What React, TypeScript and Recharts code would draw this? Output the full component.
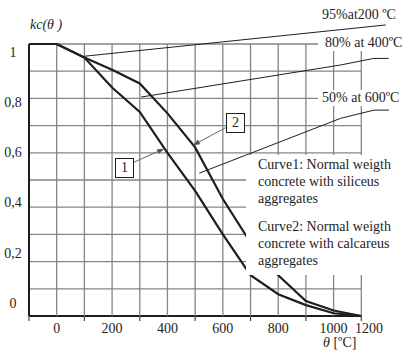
import React from "react";
import { LineChart, Line, XAxis, YAxis, ReferenceLine } from "recharts";

// temperatures (ºC) and reduction factor kc(θ) for the two curves
const temps = [-100, 0, 100, 200, 300, 400, 500, 600, 700, 800, 900, 1000, 1100];
const curve1 = [1, 1, 0.95, 0.84, 0.75, 0.6, 0.46, 0.3, 0.15, 0.08, 0.04, 0.01, 0];
const curve2 = [1, 1, 0.95, 0.905, 0.855, 0.745, 0.62, 0.43, 0.27, 0.15, 0.055, 0.02, 0];

const xTicks = [-100, 0, 100, 200, 300, 400, 500, 600, 700, 800, 900, 1000, 1100, 1200];
const yLabels = [0, 0.2, 0.4, 0.6, 0.8, 1];
const yMinor = [0.05, 0.15, 0.25, 0.35, 0.45, 0.55, 0.65, 0.75, 0.85, 0.95];
const xGrid = [-100, 0, 100, 200, 300, 400, 500, 600, 700, 800, 900, 1000, 1100];
const yGrid = [0, 0.1, 0.2, 0.3, 0.4, 0.5, 0.6, 0.7, 0.8, 0.9, 1];

// leader lines for the callouts (data units)
const note95 = [
  { x: 100, y: 0.955 },
  { x: 1188, y: 1.07 },
];
const note80 = [
  { x: 305, y: 0.805 },
  { x: 1026, y: 0.923 },
  { x: 1145, y: 0.947 },
  { x: 1199, y: 0.947 },
];
const note50 = [
  { x: 515, y: 0.525 },
  { x: 1026, y: 0.727 },
  { x: 1146, y: 0.757 },
  { x: 1200, y: 0.757 },
];
const arrow1 = [
  { x: 280, y: 0.566 },
  { x: 388, y: 0.615 },
];
const arrow2 = [
  { x: 617, y: 0.696 },
  { x: 492, y: 0.628 },
];

const rows = temps.map((t, i) => ({ t, c1: curve1[i], c2: curve2[i] }));

const font = "'Liberation Serif', 'Times New Roman', serif";
const gridColor = "#858585";
const ink = "#1e1e1e";

const XTick = (props: any) => {
  const { x, y, payload } = props;
  const v = payload.value;
  if (v % 200 !== 0) {
    if (v > 1100) return <g />;
    return <line x1={x} x2={x} y1={y} y2={y + 5} stroke="#444" strokeWidth={1.2} />;
  }
  const last = v === 1200;
  return (
    <text
      x={x}
      y={y + 17}
      dx={last ? -6 : 0}
      textAnchor={last ? "end" : "middle"}
      fontFamily={font}
      fontSize={14}
      fill={ink}
    >
      {v}
    </text>
  );
};

const YTick = (props: any) => {
  const { x, y, payload } = props;
  return (
    <text x={x} y={y} dy="0.35em" textAnchor="middle" fontFamily={font} fontSize={14} fill={ink}>
      {String(payload.value).replace(".", ",")}
    </text>
  );
};

const Arrow = (props: any) => {
  const { x1, y1, x2, y2 } = props;
  const a = Math.atan2(y2 - y1, x2 - x1);
  const len = 7;
  const w = 2.6;
  const bx = x2 - len * Math.cos(a);
  const by = y2 - len * Math.sin(a);
  const px = -Math.sin(a) * w;
  const py = Math.cos(a) * w;
  return (
    <g>
      <line x1={x1} y1={y1} x2={bx} y2={by} stroke="#666" strokeWidth={1} />
      <polygon points={`${x2},${y2} ${bx + px},${by + py} ${bx - px},${by - py}`} fill="#555" />
    </g>
  );
};

function segments(pts: { x: number; y: number }[]) {
  const out: { x: number; y: number }[][] = [];
  for (let i = 0; i < pts.length - 1; i++) out.push([pts[i], pts[i + 1]]);
  return out;
}

const textStyle: React.CSSProperties = {
  position: "absolute",
  fontFamily: font,
  fontSize: 14,
  lineHeight: "16px",
  color: ink,
  whiteSpace: "nowrap",
};

export default function App() {
  const notes = [note95, note80, note50].flatMap(segments);
  return (
    <div style={{ position: "absolute", left: 0, top: 0, width: 405, height: 353, background: "#fff" }}>
      <LineChart
        width={405}
        height={353}
        data={rows}
        margin={{ top: 44, right: 16, bottom: 0, left: 0 }}
      >
        <XAxis
          dataKey="t"
          type="number"
          domain={[-100, 1200]}
          ticks={xTicks}
          interval={0}
          axisLine={false}
          tickLine={false}
          tickSize={0}
          tickMargin={0}
          height={37}
          tick={<XTick />}
        />
        <YAxis
          yAxisId="lab"
          type="number"
          domain={[-0.052, 1.032]}
          allowDataOverflow
          ticks={yLabels}
          interval={0}
          axisLine={false}
          tickLine={false}
          tickSize={0}
          tickMargin={16}
          width={29}
          tick={<YTick />}
        />
        <YAxis
          yAxisId="main"
          type="number"
          domain={[0, 1]}
          ticks={yMinor}
          interval={0}
          mirror
          width={0}
          axisLine={{ stroke: ink, strokeWidth: 2 }}
          tickLine={{ stroke: "#444", strokeWidth: 1.2 }}
          tickSize={4}
          tick={() => <g />}
        />
        {yGrid.map((v) => (
          <ReferenceLine
            key={"h" + v}
            yAxisId="main"
            segment={[
              { x: -100, y: v },
              { x: 1100, y: v },
            ]}
            stroke={v === 0 ? ink : gridColor}
            strokeWidth={v === 0 ? 2 : 1.3}
          />
        ))}
        {xGrid.map((v) => (
          <ReferenceLine
            key={"v" + v}
            yAxisId="main"
            segment={[
              { x: v, y: 0 },
              { x: v, y: 1 },
            ]}
            stroke={v === -100 ? ink : gridColor}
            strokeWidth={v === -100 ? 2 : 1.3}
          />
        ))}
        <Line
          yAxisId="main"
          dataKey="c1"
          type="linear"
          stroke={ink}
          strokeWidth={2.2}
          dot={false}
          activeDot={false}
          isAnimationActive={false}
        />
        <Line
          yAxisId="main"
          dataKey="c2"
          type="linear"
          stroke={ink}
          strokeWidth={2.2}
          dot={false}
          activeDot={false}
          isAnimationActive={false}
        />
        {notes.map((s, i) => (
          <ReferenceLine
            key={"n" + i}
            yAxisId="main"
            segment={s}
            ifOverflow="visible"
            stroke={ink}
            strokeWidth={1}
          />
        ))}
        {[arrow1, arrow2].map((s, i) => (
          <ReferenceLine
            key={"a" + i}
            yAxisId="main"
            segment={s}
            ifOverflow="visible"
            shape={(p: any) => <Arrow {...p} />}
          />
        ))}
      </LineChart>

      <div style={{ ...textStyle, left: 30, top: 17, fontStyle: "italic" }}>kc(θ )</div>
      <div style={{ ...textStyle, left: 322, top: 7 }}>95%at200 ºC</div>
      <div style={{ ...textStyle, left: 318, top: 35, paddingLeft: 7, background: "#fff" }}>
        80% at 400ºC
      </div>
      <div style={{ ...textStyle, left: 318, top: 90, paddingLeft: 4, paddingRight: 6, background: "#fff" }}>
        50% at 600ºC
      </div>
      <div
        style={{
          ...textStyle,
          left: 246,
          top: 155,
          width: 147,
          height: 120,
          paddingLeft: 12,
          background: "#fff",
          lineHeight: "17px",
        }}
      >
        <div style={{ paddingTop: 1 }}>
          Curve1: Normal weigth
          <br />
          concrete with siliceus
          <br />
          aggregates
        </div>
        <div style={{ marginTop: 11 }}>
          Curve2: Normal weigth
          <br />
          concrete with calcareus
          <br />
          aggregates
        </div>
      </div>
      <div
        style={{
          ...textStyle,
          left: 115,
          top: 158,
          width: 17,
          height: 18,
          border: `1px solid ${ink}`,
          background: "#fff",
          textAlign: "center",
          lineHeight: "18px",
        }}
      >
        1
      </div>
      <div
        style={{
          ...textStyle,
          left: 226,
          top: 113,
          width: 17,
          height: 18,
          border: `1px solid ${ink}`,
          background: "#fff",
          textAlign: "center",
          lineHeight: "18px",
        }}
      >
        2
      </div>
      <div style={{ ...textStyle, left: 323, top: 335 }}>
        <span style={{ fontStyle: "italic" }}>θ</span> [ºC]
      </div>
    </div>
  );
}
